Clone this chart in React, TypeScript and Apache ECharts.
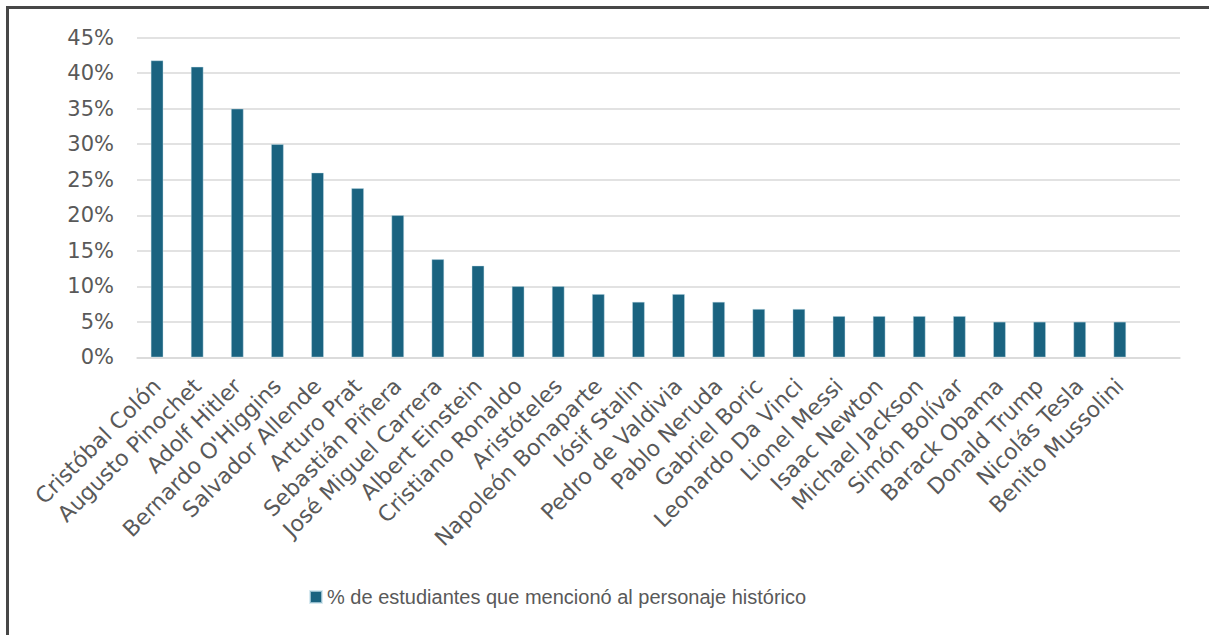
import React, { useEffect, useRef } from "react";
import * as echarts from "echarts";

const categories: string[] = [
  "Cristóbal Colón",
  "Augusto Pinochet",
  "Adolf Hitler",
  "Bernardo O'Higgins",
  "Salvador Allende",
  "Arturo Prat",
  "Sebastián Piñera",
  "José Miguel Carrera",
  "Albert Einstein",
  "Cristiano Ronaldo",
  "Aristóteles",
  "Napoleón Bonaparte",
  "Iósif Stalin",
  "Pedro de Valdivia",
  "Pablo Neruda",
  "Gabriel Boric",
  "Leonardo Da Vinci",
  "Lionel Messi",
  "Isaac Newton",
  "Michael Jackson",
  "Simón Bolívar",
  "Barack Obama",
  "Donald Trump",
  "Nicolás Tesla",
  "Benito Mussolini",
  "",
];

const values: (number | null)[] = [
  41.8, 40.9, 35, 30, 26, 23.8, 20, 13.8, 12.9, 10, 10, 8.9, 7.8, 8.9, 7.8,
  6.8, 6.8, 5.8, 5.8, 5.8, 5.8, 5, 5, 5, 5, null,
];

const yTicks = { min: 0, max: 45, interval: 5 };
const seriesName = "% de estudiantes que mencionó al personaje histórico";

export default function App() {
  const ref = useRef<HTMLDivElement>(null);
  useEffect(() => {
    if (!ref.current) return;
    const chart = echarts.init(ref.current, null, { renderer: "svg" });
    const font = "'Liberation Sans', Arial, sans-serif";
    const axisFont = "'DejaVu Sans', 'Liberation Sans', sans-serif";
    chart.setOption({
      animation: false,
      backgroundColor: "#ffffff",
      textStyle: { fontFamily: font },
      grid: { left: 137, right: 29, top: 37.7, bottom: 277.7, containLabel: false },
      legend: {
        data: [seriesName],
        left: 304,
        top: 582,
        icon: "rect",
        itemWidth: 12,
        itemHeight: 12,
        itemGap: 6,
        textStyle: { fontSize: 20, color: "#595959", fontFamily: font },
      },
      xAxis: {
        type: "category",
        data: categories,
        axisTick: { show: false },
        axisLine: { lineStyle: { color: "#d9d9d9", width: 1.5 } },
        axisLabel: {
          interval: 0,
          rotate: 45,
          margin: 25,
          fontSize: 22,
          color: "#595959",
          fontFamily: axisFont,
        },
      },
      yAxis: {
        type: "value",
        min: yTicks.min,
        max: yTicks.max,
        interval: yTicks.interval,
        axisLine: { show: false },
        axisTick: { show: false },
        splitLine: { lineStyle: { color: "#d9d9d9", width: 1.5 } },
        axisLabel: {
          formatter: "{value}%",
          margin: 23,
          fontSize: 21,
          color: "#595959",
          fontFamily: axisFont,
        },
      },
      series: [
        {
          name: seriesName,
          type: "bar",
          data: values,
          barWidth: 12.5,
          itemStyle: { color: "#1a6380", borderColor: "rgba(200,225,235,0.7)", borderWidth: 0.6 },
        },
      ],
    });
    return () => chart.dispose();
  }, []);
  return (
    <div style={{ position: "fixed", left: 0, top: 0, width: 1209, height: 635, overflow: "hidden", background: "#fff" }}>
      <div ref={ref} style={{ position: "absolute", left: 0, top: 0, width: 1209, height: 635 }} />
      <div
        style={{
          position: "absolute",
          left: 6,
          top: 6,
          width: 1400,
          height: 800,
          borderLeft: "3px solid #474747",
          borderTop: "3px solid #474747",
          pointerEvents: "none",
        }}
      />
    </div>
  );
}
